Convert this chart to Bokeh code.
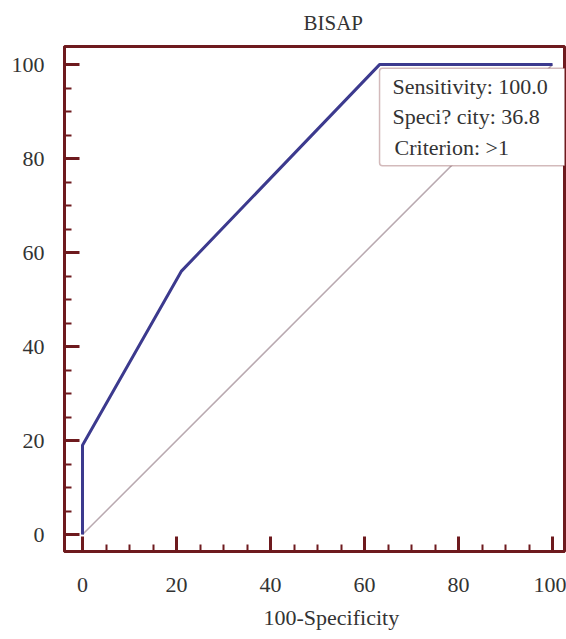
from bokeh.plotting import figure
from bokeh.models import Range1d, SingleIntervalTicker, Label, BoxAnnotation, Title
from bokeh.embed import file_html
from bokeh.resources import INLINE

# ROC curve data (100-Specificity vs Sensitivity)
fpr = [0, 0, 21, 63.2, 100]
tpr = [0, 19, 56, 100, 100]
ref_x = [0, 100]
ref_y = [0, 100]

op_sens = 100.0
op_spec = 36.8
op_crit = ">1"
box_lines = [f"Sensitivity: {op_sens:.1f}", f"Speci? city: {op_spec:.1f}", f"Criterion: {op_crit}"]

title_text = "BISAP"
xlabel_text = "100-Specificity"

RED = "#6e1a1e"
BLUE = "#3c3a8e"
TXT = "#333333"
FONT = "Liberation Serif"
FS = "22px"

p = figure(width=566, height=639, output_backend="svg", toolbar_location=None,
           x_range=Range1d(-3.83, 102.55), y_range=Range1d(-3.6, 103.85),
           min_border_left=64, min_border_top=46, min_border_bottom=88, min_border_right=2)
p.title = Title(text=title_text, align="left", offset=239, text_font=FONT,
                text_font_size="21px", text_font_style="normal", text_color=TXT,
                standoff=20, vertical_align="top")

p.xgrid.visible = False
p.ygrid.visible = False
p.outline_line_color = RED
p.outline_line_width = 3
p.outline_line_alpha = 1

for ax in (p.xaxis[0], p.yaxis[0]):
    ax.ticker = SingleIntervalTicker(interval=20, num_minor_ticks=4)
    ax.axis_line_color = RED
    ax.axis_line_width = 3
    ax.major_tick_in = 15
    ax.major_tick_out = 0
    ax.minor_tick_in = 7
    ax.minor_tick_out = 0
    ax.major_tick_line_color = RED
    ax.major_tick_line_width = 3
    ax.minor_tick_line_color = RED
    ax.minor_tick_line_width = 2
    ax.major_label_text_font = FONT
    ax.major_label_text_font_size = FS
    ax.major_label_text_color = TXT
p.yaxis[0].major_label_standoff = 20
p.xaxis[0].major_label_standoff = 26

# x-axis title, placed below the tick labels
p.add_layout(Title(text=xlabel_text, align="left", offset=199, text_font=FONT,
                   text_font_size=FS, text_font_style="normal", text_color=TXT,
                   standoff=18, vertical_align="middle"), "below")

# diagonal reference line and ROC curve
p.line(ref_x, ref_y, line_color="#b9a9b0", line_width=1.5)
p.line(fpr, tpr, line_color=BLUE, line_width=3)

# criterion box anchored at the operating point
op_x = 100 - op_spec
box = BoxAnnotation(left=op_x, right=110, top=op_sens - 0.8, bottom=op_sens - 21.5,
                    fill_color="white", fill_alpha=1, line_color=RED, line_width=1.5,
                    border_radius=3)
p.add_layout(box)

for i, t in enumerate(box_lines):
    p.add_layout(Label(x=op_x, y=op_sens, x_offset=13 if i < 2 else 15,
                       y_offset=-21.5 - 30.5 * i, text=t,
                       text_font=FONT, text_font_size=FS, text_color=TXT,
                       text_baseline="middle", text_align="left"))

open("out.html", "w").write(file_html(p, INLINE))
